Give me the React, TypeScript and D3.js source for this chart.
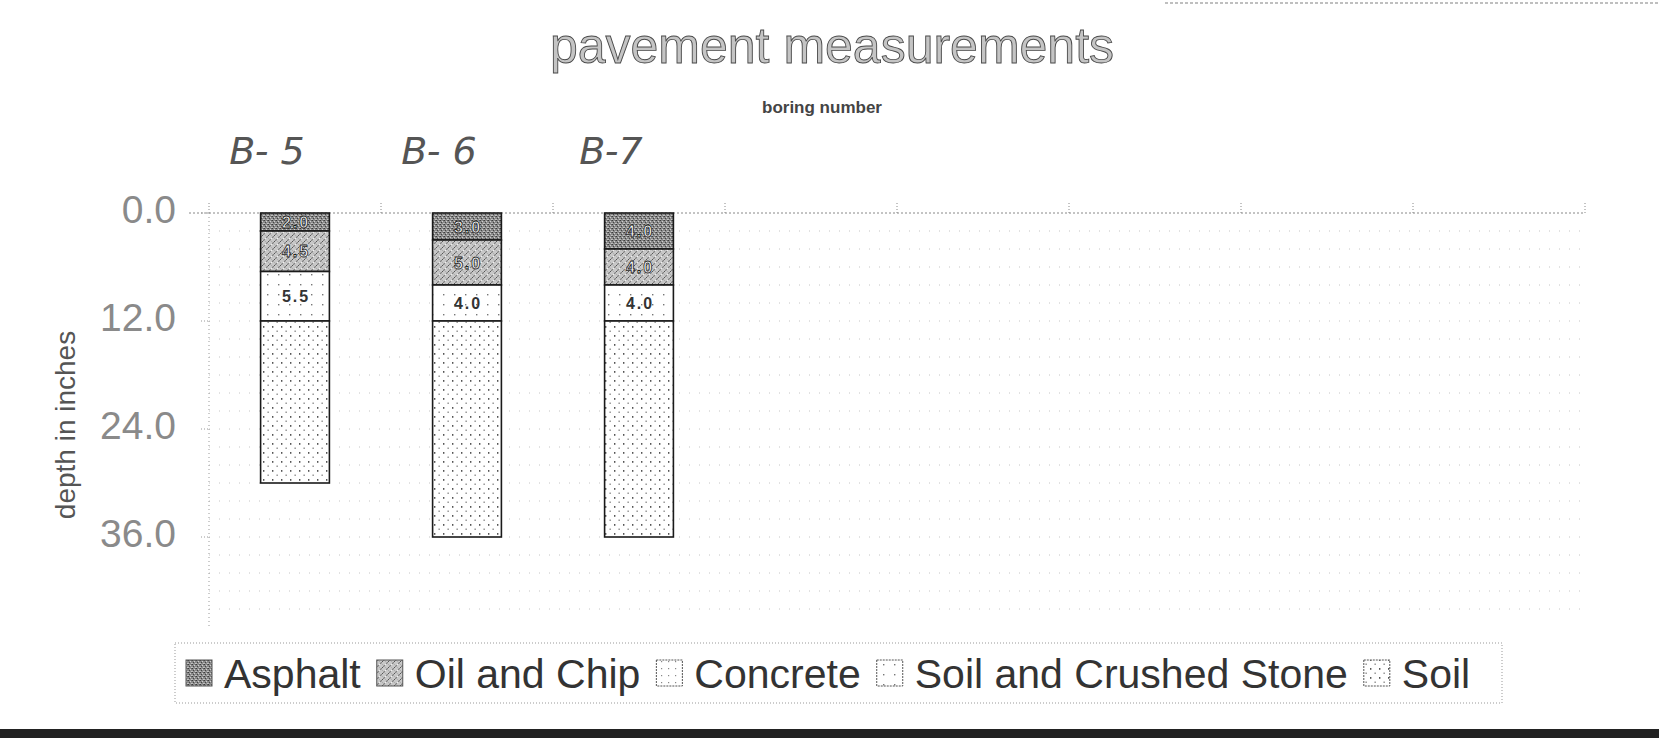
import React from "react";
import * as d3 from "d3";

// ---- data ----
const borings = ["B-5", "B-6", "B-7"];
const boringLabels = ["B- 5", "B- 6", "B-7"];
const asphalt = [2.0, 3.0, 4.0];
const oilAndChip = [4.5, 5.0, 4.0];
const concrete = [0, 0, 0];
const soilAndCrushedStone = [5.5, 4.0, 4.0];
const soil = [18, 24, 24];
const seriesNames = ["Asphalt", "Oil and Chip", "Concrete", "Soil and Crushed Stone", "Soil"];
const yTickValues = [0, 12, 24, 36];
const yMax = 46;
const gridStep = 2;
const slotCount = 8;

const patternIds = ["pAsphalt", "pOil", "pConcrete", "pSoilStone", "pSoil"];

const FONT = "'Liberation Sans', Arial, sans-serif";

function measure(text: string, font: string): number {
  if (typeof document === "undefined") return text.length * 20;
  const c = document.createElement("canvas");
  const ctx = c.getContext("2d");
  if (!ctx) return text.length * 20;
  ctx.font = font;
  return ctx.measureText(text).width;
}

export default function App() {
  const W = 1659;
  const H = 740;
  const plotL = 209, plotR = 1585, plotT = 213, plotB = 627;

  const rows = borings.map((b, i) => ({
    name: b,
    [seriesNames[0]]: asphalt[i],
    [seriesNames[1]]: oilAndChip[i],
    [seriesNames[2]]: concrete[i],
    [seriesNames[3]]: soilAndCrushedStone[i],
    [seriesNames[4]]: soil[i],
  })) as any[];

  const stacked = d3.stack<any>().keys(seriesNames)(rows);

  const x = d3
    .scaleBand<number>()
    .domain(d3.range(slotCount))
    .range([plotL, plotR])
    .paddingInner(0.6)
    .paddingOuter(0.3);
  const y = d3.scaleLinear().domain([0, yMax]).range([plotT, plotB]);

  const halfGap = (x.step() - x.bandwidth()) / 2;
  const boundaries = d3.range(slotCount + 1).map((k) =>
    k < slotCount ? (x(k) as number) - halfGap : (x(slotCount - 1) as number) + x.bandwidth() + halfGap
  );
  const gridVals = d3.range(gridStep, yMax, gridStep);

  // legend layout
  const legendFontSize = 41;
  const legendFont = `${legendFontSize}px 'Liberation Sans', Arial, sans-serif`;
  const sw = 26;
  let cursor = 186;
  const legendItems = seriesNames.map((name, i) => {
    const sx = cursor;
    const tx = sx + sw + 12;
    const w = measure(name, legendFont);
    cursor = tx + w + 16;
    return { name, sx, tx, i };
  });
  const legendRight = cursor + 4;

  return (
    <svg
      width={W}
      height={H}
      style={{ position: "absolute", left: 0, top: 0, background: "#fff" }}
      fontFamily={FONT}
    >
      <defs>
        <pattern id="pAsphalt" width={4} height={4} patternUnits="userSpaceOnUse">
          <rect width={4} height={4} fill="#8a8a8a" />
          <rect x={0} y={0} width={1} height={1} fill="#3c3c3c" />
          <rect x={2} y={1} width={1} height={1} fill="#d0d0d0" />
          <rect x={1} y={2} width={1} height={1} fill="#444" />
          <rect x={3} y={3} width={1} height={1} fill="#c4c4c4" />
          <rect x={3} y={0} width={1} height={1} fill="#5e5e5e" />
          <rect x={0} y={3} width={1} height={1} fill="#bbb" />
        </pattern>
        <pattern id="pOil" width={6} height={6} patternUnits="userSpaceOnUse">
          <rect width={6} height={6} fill="#c8c8c8" />
          <path d="M0,6 L6,0" stroke="#7a7a7a" strokeWidth={0.9} />
          <path d="M0,0 L6,6" stroke="#9a9a9a" strokeWidth={0.6} />
          <rect x={1} y={4} width={1} height={1} fill="#eee" />
          <rect x={4} y={1} width={1} height={1} fill="#555" />
        </pattern>
        <pattern id="pConcrete" width={7} height={7} patternUnits="userSpaceOnUse">
          <rect width={7} height={7} fill="#fff" />
          <rect x={3} y={3} width={1.2} height={1.2} fill="#888" />
        </pattern>
        <pattern id="pSoilStone" width={11} height={10} patternUnits="userSpaceOnUse">
          <rect width={11} height={10} fill="#fff" />
          <rect x={3} y={4} width={1.4} height={1.4} fill="#777" />
        </pattern>
        <pattern id="pSoil" width={9} height={9} patternUnits="userSpaceOnUse">
          <rect width={9} height={9} fill="#fff" />
          <rect x={2} y={2} width={1.4} height={1.8} fill="#555" />
          <rect x={6.5} y={6.5} width={1.3} height={1.5} fill="#888" />
        </pattern>
      </defs>

      {/* scan artifact at top right */}
      <line x1={1165} x2={W} y1={3} y2={3} stroke="#aaa" strokeWidth={1.5} strokeDasharray="3 2" />

      {/* title */}
      <text
        x={832}
        y={63}
        textAnchor="middle"
        fontSize={50}
        fill="#c4c4c4"
        stroke="#4a4a4a"
        strokeWidth={0.9}
      >
        pavement measurements
      </text>
      <text x={822} y={113} textAnchor="middle" fontSize={17} fontWeight="bold" fill="#444">
        boring number
      </text>

      {/* handwritten boring labels */}
      {borings.map((b, i) => (
        <text
          key={b}
          x={(x(i) as number) + x.bandwidth() / 2 - 28}
          y={164}
          textAnchor="middle"
          fontSize={38}
          fontStyle="italic"
          fontFamily="'DejaVu Sans', sans-serif"
          fontWeight={200}
          fill="#555"
        >
          {boringLabels[i]}
        </text>
      ))}

      {/* grid lines */}
      {gridVals.map((v) => (
        <line
          key={v}
          x1={plotL}
          x2={plotR}
          y1={y(v)}
          y2={y(v)}
          stroke="#c4c4c4"
          strokeWidth={1}
          strokeDasharray="1 9"
        />
      ))}
      {/* top axis line */}
      <line x1={plotL - 20} x2={plotR} y1={plotT} y2={plotT} stroke="#888" strokeWidth={1} strokeDasharray="2 2" />
      {boundaries.map((bx, k) => (
        <line key={k} x1={bx} x2={bx} y1={plotT - 10} y2={plotT} stroke="#888" strokeWidth={1} strokeDasharray="1 2" />
      ))}
      {/* left axis */}
      <line x1={plotL} x2={plotL} y1={plotT} y2={plotB} stroke="#999" strokeWidth={1} strokeDasharray="1 3" />
      {yTickValues.map((v) => (
        <g key={v}>
          <line x1={plotL - 8} x2={plotL} y1={y(v)} y2={y(v)} stroke="#999" strokeDasharray="1 2" />
          <text x={176} y={y(v) + 10} textAnchor="end" fontSize={39} fill="#8a8a8a">
            {v.toFixed(1)}
          </text>
        </g>
      ))}
      <text
        transform={`translate(75,${(plotT + plotB) / 2 + 5}) rotate(-90)`}
        textAnchor="middle"
        fontSize={28}
        fill="#555"
      >
        depth in inches
      </text>

      {/* bars */}
      {stacked.map((series, si) =>
        series.map((d, i) => {
          const v = d[1] - d[0];
          if (v <= 0) return null;
          const bx = x(i) as number;
          const y0 = y(d[0]);
          const y1 = y(d[1]);
          return (
            <rect
              key={`${si}-${i}`}
              x={bx}
              y={y0}
              width={x.bandwidth()}
              height={y1 - y0}
              fill={`url(#${patternIds[si]})`}
              stroke="#1a1a1a"
              strokeWidth={1.6}
            />
          );
        })
      )}
      {/* data labels */}
      {stacked.map((series, si) =>
        si < 4
          ? series.map((d, i) => {
              const v = d[1] - d[0];
              if (v <= 0) return null;
              const cx = (x(i) as number) + x.bandwidth() / 2;
              const cy = (y(d[0]) + y(d[1])) / 2;
              const light = si < 2;
              return (
                <text
                  key={`l${si}-${i}`}
                  x={cx + 1}
                  y={cy + 6}
                  textAnchor="middle"
                  fontSize={16}
                  fontWeight="bold"
                  letterSpacing={2}
                  fill={light ? "#fafafa" : "#333"}
                  stroke={light ? "#222" : "none"}
                  strokeWidth={light ? 0.8 : 0}
                >
                  {v.toFixed(1)}
                </text>
              );
            })
          : null
      )}

      {/* legend */}
      <rect
        x={175}
        y={643}
        width={Math.max(legendRight, 1502) - 175}
        height={60}
        fill="none"
        stroke="#999"
        strokeWidth={1}
        strokeDasharray="1 2"
      />
      {legendItems.map((it) => (
        <g key={it.name}>
          <rect
            x={it.sx}
            y={660}
            width={sw}
            height={sw}
            fill={`url(#${patternIds[it.i]})`}
            stroke="#555"
            strokeWidth={1}
            strokeDasharray={it.i >= 2 ? "2 1" : undefined}
          />
          <text x={it.tx} y={688} fontSize={legendFontSize} fill="#333">
            {it.name}
          </text>
        </g>
      ))}

      {/* scan edge at bottom */}
      <rect x={0} y={729} width={W} height={9} fill="#222" />
    </svg>
  );
}
